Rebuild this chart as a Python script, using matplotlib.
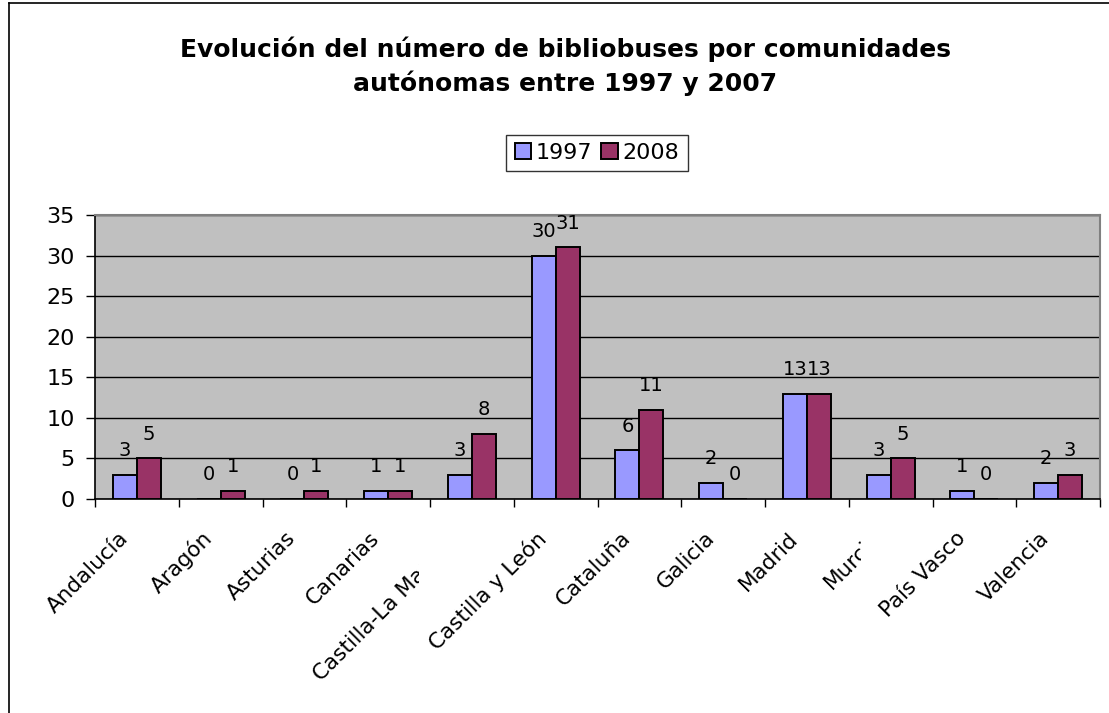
import matplotlib
matplotlib.use("Agg")
import matplotlib.pyplot as plt
import matplotlib.transforms as mtransforms
from matplotlib.lines import Line2D
import numpy as np

plt.rcParams['font.family'] = ['DejaVu Sans']

categories = ["Andalucía", "Aragón", "Asturias", "Canarias", "Castilla-La Mancha",
              "Castilla y León", "Cataluña", "Galicia", "Madrid", "Murcia",
              "País Vasco", "Valencia"]
series_names = ["1997", "2008"]
values_1997 = [3, 0, 0, 1, 3, 30, 6, 2, 13, 3, 1, 2]
values_2008 = [5, 1, 1, 1, 8, 31, 11, 0, 13, 5, 0, 3]
y_ticks = [0, 5, 10, 15, 20, 25, 30, 35]
title_lines = ["Evolución del número de bibliobuses por comunidades",
               "autónomas entre 1997 y 2007"]
# labels cut off on the right in the original (category -> clip x in pixels)
clipped_labels = {"Castilla-La Mancha": 419, "Murcia": 861}

W, H = 1109, 713
fig = plt.figure(figsize=(W / 100, H / 100), dpi=100)
fig.patch.set_facecolor("white")

ax = fig.add_axes([95 / W, 1 - 499 / H, 1005 / W, 284 / H])
ax.set_facecolor("#C0C0C0")

x = np.arange(len(categories))
w = 1 / 3.5
b1 = ax.bar(x - w / 2, values_1997, width=w, color="#9999FF", edgecolor="black",
            linewidth=1.4, zorder=3, label=series_names[0])
b2 = ax.bar(x + w / 2, values_2008, width=w, color="#993366", edgecolor="black",
            linewidth=1.4, zorder=3, label=series_names[1])

for xs, vals in ((x - w / 2, values_1997), (x + w / 2, values_2008)):
    for xi, v in zip(xs, vals):
        ax.annotate(str(v), (xi, v), xytext=(0, 13.5), textcoords="offset points",
                    ha="center", va="baseline", fontsize=14, color="black", zorder=4)

ax.set_xlim(-0.5, len(categories) - 0.5)
ax.set_ylim(0, 35)
ax.set_yticks(y_ticks)
ax.yaxis.grid(True, color="black", linewidth=1.0, zorder=1)
ax.set_axisbelow(True)
ax.tick_params(axis="y", direction="out", length=6.5, width=1, pad=8, labelsize=16)

ax.set_xticks(x)
ax.set_xticklabels(categories, rotation=45, rotation_mode="anchor", ha="right",
                   va="center", fontsize=15.5)
ax.tick_params(axis="x", which="major", length=0, pad=26)
ax.set_xticks(np.arange(-0.5, len(categories), 1.0), minor=True)
ax.tick_params(axis="x", which="minor", direction="out", length=6, width=1)
off = mtransforms.ScaledTranslation(-12 / 100, 0, fig.dpi_scale_trans)
for lab in ax.get_xticklabels():
    lab.set_transform(lab.get_transform() + off)
    name = lab.get_text()
    if name in clipped_labels:
        cb = mtransforms.TransformedBbox(
            mtransforms.Bbox([[0, 0], [clipped_labels[name] / W, 1]]), fig.transFigure)
        lab.set_clip_on(True)
        lab.set_clip_box(cb)

for side in ("left", "bottom"):
    ax.spines[side].set_color("black")
    ax.spines[side].set_linewidth(1.2)
for side in ("top", "right"):
    ax.spines[side].set_color("#808080")
    ax.spines[side].set_linewidth(1.5)

cx = 565 / W
fig.text(cx, 1 - 57 / H, title_lines[0], ha="center", va="baseline",
         fontsize=18, fontweight="bold")
fig.text(cx, 1 - 91 / H, title_lines[1], ha="center", va="baseline",
         fontsize=18, fontweight="bold")

leg = fig.legend(handles=[b1, b2], labels=series_names, loc="center",
                 bbox_to_anchor=(597 / W, 1 - 153 / H), ncol=2, fontsize=16,
                 frameon=True, fancybox=False, shadow=False, borderpad=0.38,
                 handlelength=0.75, handleheight=0.75, handletextpad=0.2,
                 columnspacing=0.4, borderaxespad=0)
leg.get_frame().set_edgecolor("black")
leg.get_frame().set_linewidth(1.0)

fig.add_artist(Line2D([9 / W, 9 / W], [0, 1 - 3 / H], transform=fig.transFigure,
                      color="black", linewidth=1.2))
fig.add_artist(Line2D([9 / W, 1], [1 - 3 / H, 1 - 3 / H], transform=fig.transFigure,
                      color="black", linewidth=1.2))

fig.savefig("out.png", dpi=100)
